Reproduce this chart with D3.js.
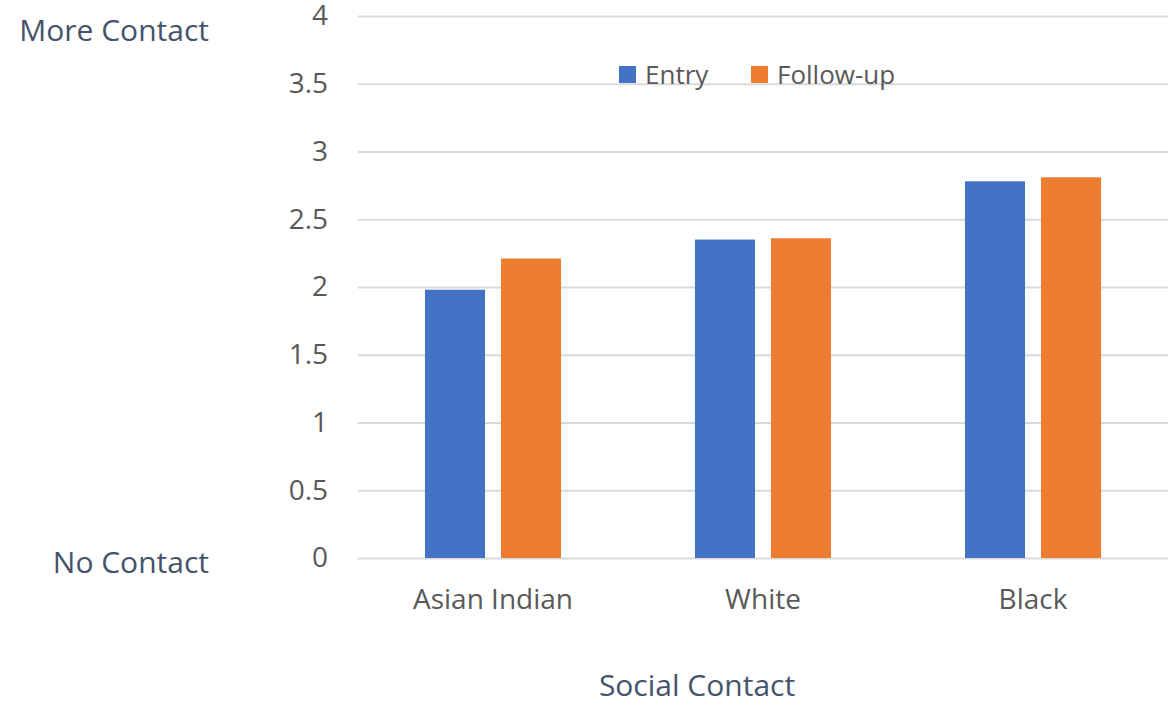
<!DOCTYPE html>
<html>
<head>
<meta charset="utf-8">
<script src="https://cdn.jsdelivr.net/npm/d3@7"></script>
<style>
  body { margin: 0; background: #fff; }
  text { font-family: "Open Sans", sans-serif; }
</style>
</head>
<body>
<div id="container"></div>
<script>
let w = 1176;
let h = 708;

let categories = ["Asian Indian", "White", "Black"];
let seriesNames = ["Entry", "Follow-up"];
let entryValues = [1.98, 2.35, 2.78];
let followValues = [2.21, 2.36, 2.81];
let yTicks = [0, 0.5, 1, 1.5, 2, 2.5, 3, 3.5, 4];
let colors = ["#4472C4", "#ED7D31"];

let plotLeft = 358;
let plotRight = 1168;
let plotTop = 16;
let plotBottom = 558;

let viz = d3.select("#container")
  .append("svg")
  .attr("width", w)
  .attr("height", h)
  ;

let yScale = d3.scaleLinear().domain([0, 4]).range([plotBottom, plotTop]);
let xScale = d3.scaleBand().domain(categories).range([plotLeft, plotRight]).paddingInner(0.496).paddingOuter(0.248);
let subScale = d3.scaleBand().domain(seriesNames).range([0, xScale.bandwidth()]).paddingInner(0.21);

// gridlines + tick labels
let yAxis = d3.axisLeft(yScale).tickValues(yTicks).tickSize(-(plotRight - plotLeft)).tickPadding(30)
  .tickFormat(d3.format("~g"));
let yAxisGroup = viz.append("g").attr("class", "yaxis")
  .attr("transform", "translate(" + plotLeft + ",0)")
  .call(yAxis);
yAxisGroup.select(".domain").remove();
yAxisGroup.selectAll("line").attr("stroke", "#D9D9D9").attr("stroke-width", 2);
yAxisGroup.selectAll("text")
  .attr("fill", "#595959")
  .style("font-size", "28px")
  .style("font-family", "'Open Sans', sans-serif");

// bars
let rows = categories.map(function (c, i) {
  return { cat: c, values: [entryValues[i], followValues[i]] };
});

let groups = viz.selectAll(".group").data(rows).enter()
  .append("g")
  .attr("class", "group")
  .attr("transform", function (d) { return "translate(" + xScale(d.cat) + ",0)"; });

groups.selectAll("rect").data(function (d) {
  return d.values.map(function (v, j) { return { s: seriesNames[j], v: v, j: j }; });
}).enter()
  .append("rect")
  .attr("x", function (d) { return subScale(d.s); })
  .attr("width", subScale.bandwidth())
  .attr("y", function (d) { return yScale(d.v); })
  .attr("height", function (d) { return plotBottom - yScale(d.v); })
  .attr("fill", function (d) { return colors[d.j]; });

// category labels
let xAxis = d3.axisBottom(xScale).tickSize(0).tickPadding(31);
let xAxisGroup = viz.append("g").attr("class", "xaxis")
  .attr("transform", "translate(0," + plotBottom + ")")
  .call(xAxis);
xAxisGroup.select(".domain").remove();
xAxisGroup.selectAll("text")
  .attr("fill", "#595959")
  .style("font-size", "28px")
  .style("font-family", "'Open Sans', sans-serif");

// axis titles
viz.append("text")
  .attr("x", 697)
  .attr("y", 696)
  .attr("text-anchor", "middle")
  .attr("fill", "#44546A")
  .style("font-size", "30px")
  .text("Social Contact");

viz.append("text")
  .attr("x", 209)
  .attr("y", yScale(4) + 25)
  .attr("text-anchor", "end")
  .attr("fill", "#44546A")
  .style("font-size", "30px")
  .text("More Contact");

viz.append("text")
  .attr("x", 209)
  .attr("y", yScale(0) + 15)
  .attr("text-anchor", "end")
  .attr("fill", "#44546A")
  .style("font-size", "30px")
  .text("No Contact");

// legend
let legendX = [619, 751];
let legend = viz.selectAll(".legend").data(seriesNames).enter()
  .append("g")
  .attr("class", "legend")
  .attr("transform", function (d, i) { return "translate(" + legendX[i] + ",66)"; });

legend.append("rect")
  .attr("width", 17)
  .attr("height", 17)
  .attr("fill", function (d, i) { return colors[i]; });

legend.append("text")
  .attr("x", 26)
  .attr("y", 18)
  .attr("fill", "#595959")
  .style("font-size", "26px")
  .text(function (d) { return d; });
</script>
</body>
</html>
